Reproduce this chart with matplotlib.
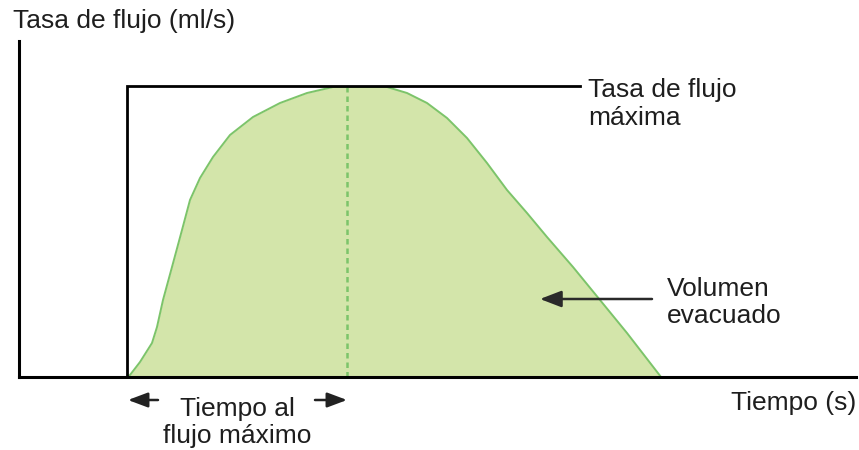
import matplotlib.pyplot as plt

plt.rcParams['font.family'] = ['Liberation Sans', 'DejaVu Sans']

# flow curve (time in s, flow in ml/s, arbitrary units)
time_s = [10.8, 11.1, 12.1, 13.3, 13.8, 14.4, 15.3, 16.3, 17.1, 18.1, 19.4,
          21.1, 23.4, 26.1, 28.8, 31.4, 32.8, 36.8, 38.8, 40.8, 42.8, 44.8,
          46.8, 48.8, 50.8, 52.8, 55.4, 58.1, 60.8, 64.2]
flow_mls = [0.0, 0.2, 1.5, 3.4, 5.0, 7.7, 11.0, 14.7, 17.7, 19.9, 22.0,
            24.2, 26.0, 27.4, 28.4, 29.0, 29.0, 29.0, 28.4, 27.4, 25.9, 23.9,
            21.4, 18.7, 16.4, 14.0, 11.0, 7.7, 4.4, 0.0]

t_start = 10.8
t_peak = 32.8
q_peak = 29.1
t_box_end = 56.1

fill_color = '#d3e5aa'
edge_color = '#7cc46a'
text_color = '#1e1e1e'
fs = 19

fig = plt.figure(figsize=(8.59, 4.5), dpi=100)
ax = fig.add_axes([19 / 859, 73 / 450, 837 / 859, 336 / 450])
ax.set_xlim(0, 83.7)
ax.set_ylim(0, 33.6)

ax.fill_between(time_s, flow_mls, color=fill_color, lw=0, zorder=1)
ax.plot(time_s, flow_mls, color=edge_color, lw=1.4, zorder=2,
        solid_joinstyle='round')
ax.plot([t_peak, t_peak], [0, q_peak - 0.1], color=edge_color, lw=1.8,
        dashes=(2.2, 1.6), zorder=3)

# box marking start of flow and the max flow level
ax.plot([t_start, t_start, t_box_end], [0, q_peak, q_peak],
        color='black', lw=2, solid_joinstyle='miter', zorder=4)

for s in ['top', 'right']:
    ax.spines[s].set_visible(False)
for s in ['left', 'bottom']:
    ax.spines[s].set_linewidth(2.2)
    ax.spines[s].set_color('black')
    ax.spines[s].set_zorder(5)
ax.set_xticks([])
ax.set_yticks([])
ax.patch.set_alpha(0)

# multi-line texts are placed by the baseline of their last line
ax.text(-0.6, 34.9, 'Tasa de flujo (ml/s)', fontsize=fs, color=text_color,
        ha='left', va='baseline', clip_on=False)
ax.text(83.7, -3.3, 'Tiempo (s)', fontsize=fs, color=text_color,
        ha='right', va='baseline', clip_on=False)
ax.text(56.9, 25.2, 'Tasa de flujo\nmáxima', fontsize=fs, color=text_color,
        ha='left', va='baseline', linespacing=1.2)
ax.text(64.8, 5.4, 'Volumen\nevacuado', fontsize=fs, color=text_color,
        ha='left', va='baseline', linespacing=1.14)
ax.text(21.8, -6.6, 'Tiempo al\nflujo máximo', fontsize=fs, color=text_color,
        ha='center', va='baseline', linespacing=1.17, clip_on=False)

arrow = dict(arrowstyle='-|>,head_length=1.3,head_width=0.5', color='#2a2a2a',
             lw=1.8, shrinkA=0, shrinkB=0)
ax.annotate('', xy=(52.1, 7.8), xytext=(63.3, 7.8), arrowprops=arrow)

small = dict(arrowstyle='-|>,head_length=1.2,head_width=0.45', color='#222222',
             lw=1.8, shrinkA=0, shrinkB=0)
ax.annotate('', xy=(t_start + 0.1, -2.3), xytext=(13.9, -2.3),
            arrowprops=small, annotation_clip=False)
ax.annotate('', xy=(t_peak, -2.3), xytext=(29.6, -2.3),
            arrowprops=small, annotation_clip=False)

fig.savefig('out.png', dpi=100, facecolor='white')
